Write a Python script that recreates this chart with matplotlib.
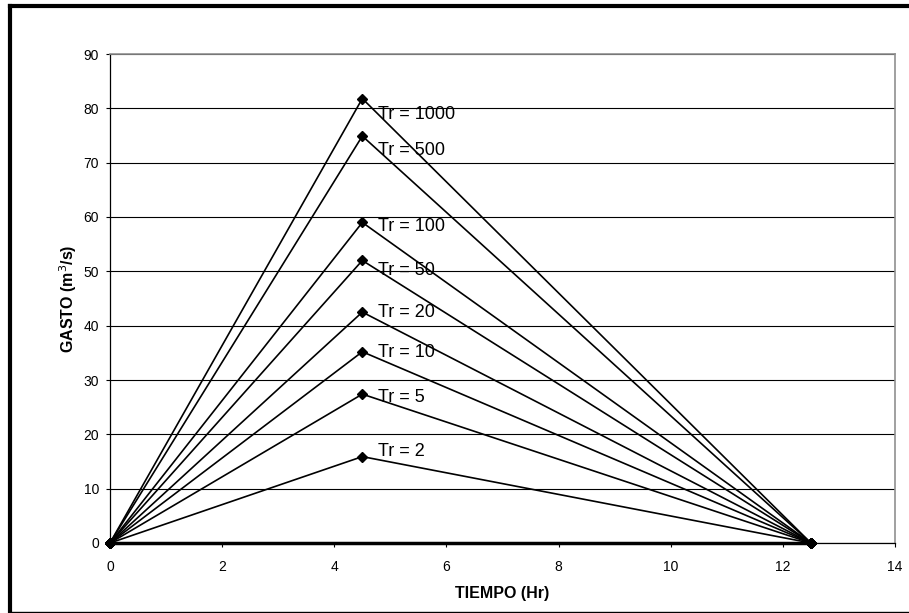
import matplotlib
matplotlib.use("Agg")
import matplotlib.pyplot as plt
from matplotlib.lines import Line2D

plt.rcParams['font.family'] = ['Liberation Sans', 'DejaVu Sans']

time_hr = [0, 4.5, 12.5]
return_periods = [1000, 500, 100, 50, 20, 10, 5, 2]
peak_flows = [81.8, 74.9, 59.0, 52.0, 42.5, 35.2, 27.4, 15.9]
label_y = [78.8, 72.2, 58.2, 50.1, 42.5, 35.0, 26.7, 16.9]
x_ticks = [0, 2, 4, 6, 8, 10, 12, 14]
y_ticks = [0, 10, 20, 30, 40, 50, 60, 70, 80, 90]

fig = plt.figure(figsize=(9.09, 6.13), dpi=100)
ax = fig.add_axes([110/909, 1-543/613, 785/909, 489/613])

for tr, qp, ly in zip(return_periods, peak_flows, label_y):
    ax.plot(time_hr, [0, qp, 0], color='black', lw=1.2, marker='D',
            markersize=5.5, markerfacecolor='black', markeredgecolor='black',
            zorder=3, clip_on=False)
    ax.text(4.78, ly, f"Tr = {tr}", fontsize=13, va='center', ha='left', zorder=4)

# thick baseline along zero
ax.plot([time_hr[0], time_hr[-1]], [0, 0], color='black', lw=2.5, zorder=3, clip_on=False)

ax.set_xlim(0, 14)
ax.set_ylim(0, 90)
ax.set_xticks(x_ticks)
ax.set_yticks(y_ticks)
ax.yaxis.grid(True, color='black', lw=0.8)
ax.set_axisbelow(True)
ax.tick_params(axis='both', direction='out', length=3, width=0.8, labelsize=10)
ax.tick_params(axis='x', pad=9)
ax.tick_params(axis='y', pad=5)

for s in ['top', 'right']:
    ax.spines[s].set_color('#909090')
    ax.spines[s].set_linewidth(1.2)
for s in ['left', 'bottom']:
    ax.spines[s].set_color('black')
    ax.spines[s].set_linewidth(0.9)

ax.set_xlabel("TIEMPO (Hr)", fontsize=11.5, fontweight='bold', labelpad=9)
ax.set_ylabel("GASTO (m$^3$/s)", fontsize=11.5, fontweight='bold', labelpad=3)

# outer frame
W, H = 909, 613
def fx(p): return p / W
def fy(p): return 1 - p / H
fig.add_artist(Line2D([fx(10), fx(912)], [fy(6), fy(6)], color='black', lw=3))
fig.add_artist(Line2D([fx(10), fx(10)], [fy(6), fy(612)], color='black', lw=3))
fig.add_artist(Line2D([fx(10), fx(912)], [fy(611.5), fy(611.5)], color='black', lw=1))

fig.savefig("out.png", dpi=100)
